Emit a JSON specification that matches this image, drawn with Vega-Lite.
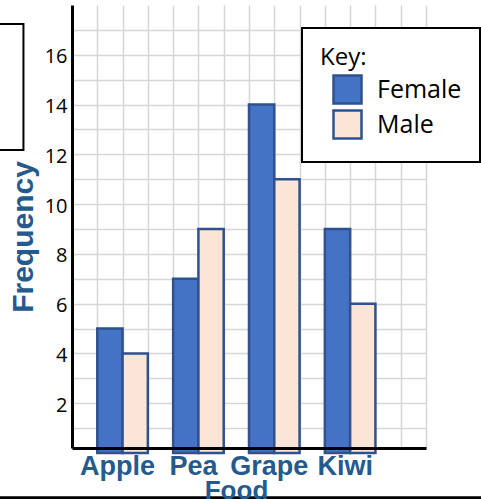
{
  "$schema": "https://vega.github.io/schema/vega-lite/v6.json",
  "width": 354,
  "height": 443,
  "autosize": {"type": "none"},
  "padding": {"left": 72, "top": 5, "right": 55, "bottom": 51},
  "background": "white",
  "config": {"view": {"stroke": null}},
  "data": {
    "values": [
      {"food": "Apple", "gender": "Female", "frequency": 5},
      {"food": "Apple", "gender": "Male", "frequency": 4},
      {"food": "Pea", "gender": "Female", "frequency": 7},
      {"food": "Pea", "gender": "Male", "frequency": 9},
      {"food": "Grape", "gender": "Female", "frequency": 14},
      {"food": "Grape", "gender": "Male", "frequency": 11},
      {"food": "Kiwi", "gender": "Female", "frequency": 9},
      {"food": "Kiwi", "gender": "Male", "frequency": 6}
    ]
  },
  "layer": [
    {
      "data": {"values": [{}]},
      "layer": [
        {
          "mark": {"type": "rect", "fill": "white", "stroke": "black", "strokeWidth": 2, "clip": false},
          "encoding": {
            "x": {
              "datum": -5,
              "type": "quantitative",
              "scale": {"domain": [0, 14], "nice": false, "zero": false},
              "axis": {
                "orient": "bottom",
                "values": [1, 2, 3, 4, 5, 6, 7, 8, 9, 10, 11, 12, 13, 14],
                "tickCount": 40,
                "grid": true,
                "gridColor": "#d6d6d6",
                "gridWidth": 1.5,
                "labels": false,
                "ticks": false,
                "domain": false,
                "title": null,
                "zindex": 0
              }
            },
            "x2": {"datum": -1.92},
            "y": {"datum": 17.24, "type": "quantitative", "scale": {"domain": [0.2, 18], "nice": false, "zero": false}},
            "y2": {"datum": 12.17}
          }
        },
        {
          "mark": {"type": "rule", "stroke": "black", "strokeWidth": 3, "clip": false},
          "encoding": {
            "x": {"datum": -5, "type": "quantitative"},
            "x2": {"datum": 20},
            "y": {"datum": -1.8, "type": "quantitative"}
          }
        }
      ]
    },
    {
      "mark": {"type": "bar", "stroke": "#2f528f", "strokeWidth": 2.5},
      "encoding": {
        "x": {
          "field": "food",
          "type": "nominal",
          "sort": ["Apple", "Pea", "Grape", "Kiwi"],
          "scale": {"paddingInner": 0.3333, "paddingOuter": 0.5, "align": 0.3333},
          "axis": {
            "orient": "bottom",
            "title": "Food",
            "labelAngle": 0,
            "labelFont": "Liberation Sans",
            "labelFontWeight": "bold",
            "labelFontSize": 27,
            "labelColor": "#245a8d",
            "labelPadding": 5,
            "labelOffset": -5,
            "ticks": false,
            "domain": true,
            "domainColor": "black",
            "domainWidth": 3,
            "grid": false,
            "titleFont": "Liberation Sans",
            "titleFontWeight": "bold",
            "titleFontSize": 26,
            "titleColor": "#245a8d",
            "titleX": 164,
            "titleY": 50,
            "titleBaseline": "alphabetic",
            "titleAlign": "center",
            "zindex": 1
          }
        },
        "xOffset": {
          "field": "gender",
          "type": "nominal",
          "sort": ["Female", "Male"],
          "scale": {"paddingInner": 0, "paddingOuter": 0}
        },
        "y": {
          "field": "frequency",
          "type": "quantitative",
          "scale": {"domain": [0.2, 18], "nice": false, "zero": false},
          "axis": {
            "title": "Frequency",
            "values": [1, 2, 3, 4, 5, 6, 7, 8, 9, 10, 11, 12, 13, 14, 15, 16, 17],
            "tickCount": 40,
            "format": "d",
            "labelExpr": "datum.value % 2 == 0 ? datum.label : ''",
            "grid": true,
            "gridColor": "#d6d6d6",
            "gridWidth": 1.5,
            "ticks": false,
            "domain": true,
            "domainColor": "black",
            "domainWidth": 3,
            "labelFont": "Open Sans",
            "labelFontSize": 20,
            "labelColor": "black",
            "labelPadding": 5,
            "labelOffset": 2,
            "labelOverlap": false,
            "titleFont": "Liberation Sans",
            "titleFontWeight": "bold",
            "titleFontSize": 30,
            "titleColor": "#245a8d",
            "titleAngle": 270,
            "titleX": -40,
            "titleY": 231.5,
            "titleAlign": "center",
            "titleBaseline": "alphabetic"
          }
        },
        "color": {
          "field": "gender",
          "type": "nominal",
          "scale": {"domain": ["Female", "Male"], "range": ["#4472c4", "#fbe5d6"]},
          "legend": {
            "orient": "none",
            "legendX": 230,
            "legendY": 23,
            "title": "Key:",
            "titleFont": "Open Sans",
            "titleFontSize": 24,
            "titleFontWeight": "normal",
            "titleColor": "black",
            "titlePadding": 4,
            "labelFont": "Open Sans",
            "labelFontSize": 25,
            "labelColor": "black",
            "labelOffset": 14,
            "symbolType": "square",
            "symbolSize": 784,
            "symbolStrokeColor": "#2f528f",
            "symbolStrokeWidth": 2.5,
            "symbolOffset": 12,
            "symbolOpacity": 1,
            "rowPadding": -5,
            "padding": 18,
            "strokeColor": "black",
            "fillColor": "white",
            "encode": {"legend": {"update": {"strokeWidth": {"value": 2}}}}
          }
        }
      }
    }
  ],
  "resolve": {"scale": {"x": "independent"}, "axis": {"x": "independent"}}
}
